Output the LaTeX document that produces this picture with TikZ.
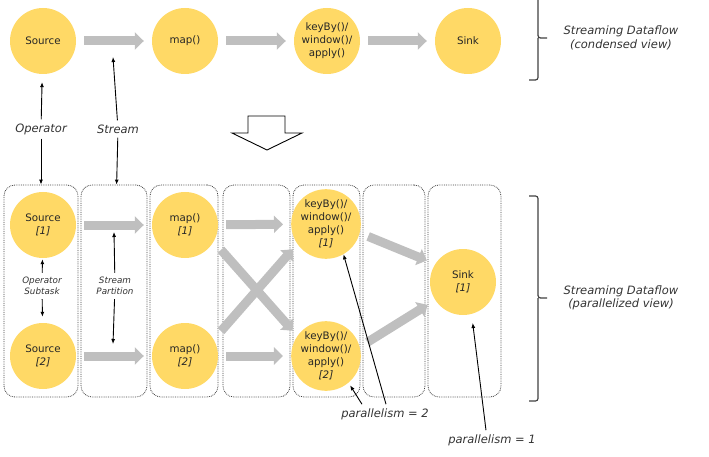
\documentclass[tikz,border=0pt]{standalone}
\usepackage{fontspec}
\setmainfont{DejaVu Sans}
\usetikzlibrary{arrows.meta}
\definecolor{taskyellow}{RGB}{255,217,102}
\definecolor{flowgray}{RGB}{191,191,191}
\definecolor{inkgray}{RGB}{51,51,51}

\begin{document}
\begin{tikzpicture}[x=1pt, y=-1pt,
      task/.style={circle, fill=taskyellow, minimum size=66pt, inner sep=0pt, align=center,
                   text=black!85, font=\fontsize{10.3}{13}\selectfont},
      flow/.style={-{Triangle[length=9pt,width=17pt]}, line width=9pt, flowgray,
                   shorten <=8pt, shorten >=8pt},
      lane/.style={draw=black!75, densely dotted, line width=0.8pt, rounded corners=11pt,
                   minimum height=212pt},
      note/.style={font=\fontsize{11.5}{13.5}\selectfont\itshape, text=inkgray, align=center, inner sep=4pt},
      small/.style={font=\fontsize{8.8}{11}\selectfont\itshape, text=inkgray, align=center, inner sep=4pt},
      pointer/.style={-{Latex[length=5pt,width=4pt]}, line width=0.9pt},
      bracket/.style={line width=1.2pt, draw=black!75, rounded corners=2.5pt}
    ]
      \useasboundingbox (0,0) rectangle (709,457);

      \node[lane, minimum width=74pt] (lane1) at (41,291) {};
      \node[lane, minimum width=66pt] (lane2) at (114,291) {};
      \node[lane, minimum width=68pt] (lane3) at (184,291) {};
      \node[lane, minimum width=67pt] (lane4) at (256.5,291) {};
      \node[lane, minimum width=67pt] (lane5) at (326.5,291) {};
      \node[lane, minimum width=62pt] (lane6) at (394,291) {};
      \node[lane, minimum width=73pt] (lane7) at (464.5,291) {};

      \node[task] (src) at (43,41)  {Source};
      \node[task] (map) at (185,41) {map()};
      \node[task] (kbw) at (327,41) {keyBy()/\\window()/\\apply()};
      \node[task] (snk) at (468,41) {Sink};
      \draw[flow] (src) -- (map);
      \draw[flow] (map) -- (kbw);
      \draw[flow] (kbw) -- (snk);

      \node[task] (src1) at (43,225)  {Source\\\textit{[1]}};
      \node[task] (src2) at (43,356)  {Source\\\textit{[2]}};
      \node[task] (map1) at (185,225) {map()\\\textit{[1]}};
      \node[task] (map2) at (185,356) {map()\\\textit{[2]}};
      \node[task] (kbw1) at (326,224) {keyBy()/\\window()/\\apply()\\\textit{[1]}};
      \node[task] (kbw2) at (326,356) {keyBy()/\\window()/\\apply()\\\textit{[2]}};
      \node[task] (snk1) at (463,282) {Sink\\\textit{[1]}};
      \draw[flow] (src1) -- (map1);
      \draw[flow] (src2) -- (map2);
      \draw[flow] (map1) -- (kbw1);
      \draw[flow] (map2) -- (kbw2);
      \draw[flow, shorten <=11pt, shorten >=7pt] (map1.-30) -- (kbw2.145);
      \draw[flow, shorten <=11pt, shorten >=7pt] (map2.30) -- (kbw1.-145);
      \draw[flow, shorten <=9pt, shorten >=9pt] (kbw1.-15) -- (snk1.147);
      \draw[flow, shorten <=9pt, shorten >=9pt] (kbw2.15) -- (snk1.-147);

      \draw[line width=0.9pt] (248,116) -- (285,116) -- (285,133) -- (302,133)
        -- (267,150) -- (232,133) -- (248,133) -- cycle;

      \node[note] (oplbl) at (41,129) {Operator};
      \node[note] (stlbl) at (118,129) {Stream};
      \coordinate (stin) at (113,57);
      \draw[pointer, shorten >=8pt] (oplbl) -- (src);
      \draw[pointer] (oplbl) -- (lane1);
      \draw[pointer] (stlbl) -- (stin);
      \draw[pointer] (stlbl) -- (lane2);

      \node[small] (ostlbl) at (42,286) {Operator\\Subtask};
      \node[small] (splbl) at (115,286) {Stream\\Partition};
      \coordinate (spup) at (114,232);
      \coordinate (spdown) at (113,344);
      \draw[pointer, shorten >=1pt] (ostlbl) -- (src1);
      \draw[pointer, shorten >=6pt] (ostlbl) -- (src2);
      \draw[pointer] (splbl) -- (spup);
      \draw[pointer] (splbl) -- (spdown);

      \node[note] (par2) at (385,414) {parallelism = 2};
      \node[note] (par1) at (492,440) {parallelism = 1};
      \draw[pointer] ([xshift=1pt]par2.north) -- (kbw1.-60);
      \draw[pointer, shorten >=3pt] ([xshift=-23pt]par2.north) -- (kbw2.-50);
      \draw[pointer, shorten >=9pt] ([xshift=-6pt]par1.north) -- (snk1.-75);

      \draw[bracket] (529,-10) -- (538,-10) -- (538,38) -- (547,38) (538,38) -- (538,80) -- (529,80);
      \draw[bracket] (529,196) -- (538,196) -- (538,298) -- (547,298) (538,298) -- (538,401) -- (529,401);
      \node[note] (cview) at (621,38) {Streaming Dataflow\\(condensed view)};
      \node[note] (pview) at (621,298) {Streaming Dataflow\\(parallelized view)};
    \end{tikzpicture}
\end{document}
